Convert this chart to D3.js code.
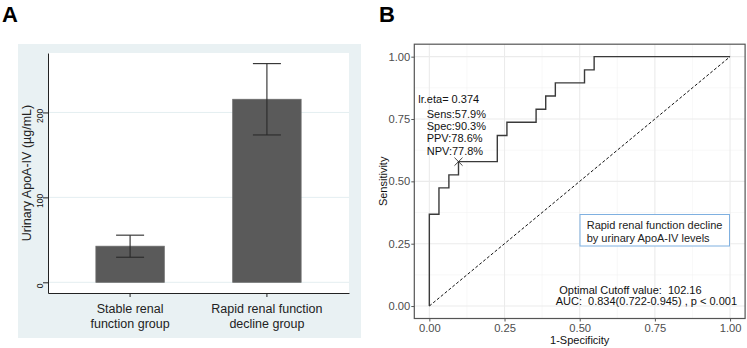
<!DOCTYPE html>
<html>
<head>
<meta charset="utf-8">
<script src="https://cdn.jsdelivr.net/npm/d3@7"></script>
<style>
  body { margin: 0; background: #fff; }
  svg { display: block; font-family: "Liberation Sans", Arial, sans-serif; }
  text { white-space: pre; }
</style>
</head>
<body>
<div id="chart"></div>
<script>
// Panel A data
const groupNames = ['Stable renal function group', 'Rapid renal function decline group'];
const groupLabelLines = [['Stable renal', 'function group'], ['Rapid renal function', 'decline group']];
const meanApoA4 = [42.5, 215.5];
const lowerApoA4 = [29.5, 173.5];
const upperApoA4 = [55.5, 257.5];
const barTicks = [0, 100, 200];

// Panel B data (ROC step corners)
const rocFpr = [0, 0, 0.032, 0.065, 0.097, 0.226, 0.258, 0.355, 0.387, 0.419, 0.516, 0.548, 1];
const rocTpr = [0, 0.368, 0.474, 0.526, 0.579, 0.684, 0.737, 0.789, 0.842, 0.895, 0.947, 1, 1];
const rocTicks = [0, 0.25, 0.5, 0.75, 1];
const rocMinorTicks = [0.125, 0.375, 0.625, 0.875];
const cutoffFpr = 0.097;
const cutoffTpr = 0.579;
const cutoffTitle = 'lr.eta= 0.374';
const cutoffStats = ['Sens:57.9%', 'Spec:90.3%', 'PPV:78.6%', 'NPV:77.8%'];
const legendLines = ['Rapid renal function decline', 'by urinary ApoA-IV levels'];
const footerLines = ['Optimal Cutoff value:  102.16', 'AUC:  0.834(0.722-0.945) , p < 0.001'];

const svg = d3.select('#chart').append('svg')
    .attr('width', 747)
    .attr('height', 348);

// ---------- Panel A ----------
svg.append('text')
    .attr('x', 2).attr('y', 22)
    .attr('font-size', 22).attr('font-weight', 'bold')
    .text('A');

svg.append('rect')
    .attr('x', 18).attr('y', 44)
    .attr('width', 343).attr('height', 294)
    .attr('fill', '#e9f1f3');

svg.append('rect')
    .attr('x', 48).attr('y', 53)
    .attr('width', 301).attr('height', 240)
    .attr('fill', '#fff');

const xA = d3.scaleBand()
    .domain(groupNames)
    .range([48, 349])
    .paddingInner(0.5)
    .paddingOuter(0.35);

const yA = d3.scaleLinear()
    .domain([-12.6, 270])
    .range([293, 53]);

// gridlines
svg.append('g').selectAll('line')
    .data(barTicks)
    .join('line')
    .attr('x1', 48).attr('x2', 349)
    .attr('y1', d => yA(d)).attr('y2', d => yA(d))
    .attr('stroke', '#e4eef1')
    .attr('stroke-width', 1);

const barData = groupNames.map((g, i) => ({
    group: g, mean: meanApoA4[i], lo: lowerApoA4[i], hi: upperApoA4[i]
}));

svg.append('g').selectAll('rect')
    .data(barData)
    .join('rect')
    .attr('x', d => xA(d.group))
    .attr('y', d => yA(d.mean))
    .attr('width', xA.bandwidth())
    .attr('height', d => yA(0) - yA(d.mean))
    .attr('fill', '#5a5a5a')
    .attr('stroke', '#6a6a6a')
    .attr('stroke-width', 0.8);

// error bars
const errG = svg.append('g')
    .attr('stroke', '#2a2a2a')
    .attr('stroke-width', 1.1);
barData.forEach(d => {
    const cx = xA(d.group) + xA.bandwidth() / 2;
    errG.append('line')
        .attr('x1', cx).attr('x2', cx)
        .attr('y1', yA(d.hi)).attr('y2', yA(d.lo));
    [d.hi, d.lo].forEach(v => {
        errG.append('line')
            .attr('x1', cx - 14).attr('x2', cx + 14)
            .attr('y1', yA(v)).attr('y2', yA(v));
    });
});

// y axis
const yAxisA = svg.append('g')
    .attr('transform', 'translate(48,0)')
    .call(d3.axisLeft(yA).tickValues(barTicks).tickSize(5).tickSizeOuter(0));
yAxisA.select('.domain').attr('stroke', '#222');
yAxisA.selectAll('.tick line').attr('stroke', '#222');
yAxisA.selectAll('.tick text')
    .attr('x', 0).attr('dy', 0)
    .attr('transform', 'translate(-5.3,3) rotate(-90)')
    .attr('text-anchor', 'middle')
    .attr('font-size', 8.5)
    .attr('font-family', '"Liberation Sans", Arial, sans-serif')
    .attr('fill', '#111');

// x axis
const xAxisA = svg.append('g')
    .attr('transform', 'translate(0,293)')
    .call(d3.axisBottom(xA).tickSize(4).tickSizeOuter(0).tickFormat(''));
xAxisA.select('.domain').attr('stroke', '#222');
xAxisA.selectAll('.tick line').attr('stroke', '#222');
xAxisA.selectAll('.tick text')
    .attr('y', 0).attr('dy', 0)
    .attr('font-size', 12.5)
    .attr('font-family', '"Liberation Sans", Arial, sans-serif')
    .attr('fill', '#222')
    .each(function(d, i) {
        d3.select(this).selectAll('tspan')
            .data(groupLabelLines[i])
            .join('tspan')
            .attr('x', 0)
            .attr('y', (t, j) => 19.5 + j * 15.5)
            .text(t => t);
    });

svg.append('text')
    .attr('transform', 'translate(31,173) rotate(-90)')
    .attr('text-anchor', 'middle')
    .attr('font-size', 12.5)
    .attr('fill', '#222')
    .text('Urinary ApoA-IV (µg/mL)');

// ---------- Panel B ----------
svg.append('text')
    .attr('x', 379).attr('y', 22)
    .attr('font-size', 22).attr('font-weight', 'bold')
    .text('B');

const xB = d3.scaleLinear().domain([-0.05, 1.05]).range([414.3, 745.1]);
const yB = d3.scaleLinear().domain([-0.05, 1.05]).range([318.5, 44.2]);

const gridB = svg.append('g');
gridB.selectAll('.minor-x')
    .data(rocMinorTicks)
    .join('line')
    .attr('x1', d => xB(d)).attr('x2', d => xB(d))
    .attr('y1', yB(-0.05)).attr('y2', yB(1.05))
    .attr('stroke', '#f3f3f3').attr('stroke-width', 0.6);
gridB.selectAll('.minor-y')
    .data(rocMinorTicks)
    .join('line')
    .attr('x1', xB(-0.05)).attr('x2', xB(1.05))
    .attr('y1', d => yB(d)).attr('y2', d => yB(d))
    .attr('stroke', '#f3f3f3').attr('stroke-width', 0.6);
gridB.selectAll('.major-x')
    .data(rocTicks)
    .join('line')
    .attr('x1', d => xB(d)).attr('x2', d => xB(d))
    .attr('y1', yB(-0.05)).attr('y2', yB(1.05))
    .attr('stroke', '#ebebeb').attr('stroke-width', 1.1);
gridB.selectAll('.major-y')
    .data(rocTicks)
    .join('line')
    .attr('x1', xB(-0.05)).attr('x2', xB(1.05))
    .attr('y1', d => yB(d)).attr('y2', d => yB(d))
    .attr('stroke', '#ebebeb').attr('stroke-width', 1.1);

// diagonal reference
svg.append('line')
    .attr('x1', xB(0)).attr('y1', yB(0))
    .attr('x2', xB(1)).attr('y2', yB(1))
    .attr('stroke', '#111')
    .attr('stroke-width', 1)
    .attr('stroke-dasharray', '3,2');

// ROC step curve
const rocPoints = rocFpr.map((f, i) => [f, rocTpr[i]]);
svg.append('path')
    .datum(rocPoints)
    .attr('fill', 'none')
    .attr('stroke', '#3a3a3a')
    .attr('stroke-width', 1.4)
    .attr('d', d3.line()
        .x(d => xB(d[0]))
        .y(d => yB(d[1]))
        .curve(d3.curveStepAfter));

// cutoff marker
svg.append('path')
    .attr('transform', `translate(${xB(cutoffFpr)},${yB(cutoffTpr)})`)
    .attr('d', d3.symbol(d3.symbolX, 44)())
    .attr('fill', 'none')
    .attr('stroke', '#333')
    .attr('stroke-width', 0.9);

// panel border
svg.append('rect')
    .attr('x', xB(-0.05)).attr('y', yB(1.05))
    .attr('width', xB(1.05) - xB(-0.05))
    .attr('height', yB(-0.05) - yB(1.05))
    .attr('fill', 'none')
    .attr('stroke', '#555')
    .attr('stroke-width', 1.2);

// axes
const xAxisB = svg.append('g')
    .attr('transform', `translate(0,${yB(-0.05)})`)
    .call(d3.axisBottom(xB).tickValues(rocTicks).tickSize(3).tickSizeOuter(0).tickFormat(d3.format('.2f')));
xAxisB.select('.domain').remove();
xAxisB.selectAll('.tick line').attr('stroke', '#555');
xAxisB.selectAll('.tick text')
    .attr('y', 6)
    .attr('font-size', 11.2)
    .attr('font-family', '"Liberation Sans", Arial, sans-serif')
    .attr('fill', '#4d4d4d');

const yAxisB = svg.append('g')
    .attr('transform', `translate(${xB(-0.05)},0)`)
    .call(d3.axisLeft(yB).tickValues(rocTicks).tickSize(3).tickSizeOuter(0).tickFormat(d3.format('.2f')));
yAxisB.select('.domain').remove();
yAxisB.selectAll('.tick line').attr('stroke', '#555');
yAxisB.selectAll('.tick text')
    .attr('x', -4)
    .attr('font-size', 11.2)
    .attr('font-family', '"Liberation Sans", Arial, sans-serif')
    .attr('fill', '#4d4d4d');

svg.append('text')
    .attr('x', (xB(-0.05) + xB(1.05)) / 2)
    .attr('y', 344)
    .attr('text-anchor', 'middle')
    .attr('font-size', 11)
    .attr('fill', '#111')
    .text('1-Specificity');

svg.append('text')
    .attr('transform', `translate(387,${(yB(-0.05) + yB(1.05)) / 2}) rotate(-90)`)
    .attr('text-anchor', 'middle')
    .attr('font-size', 11)
    .attr('fill', '#111')
    .text('Sensitivity');

// cutoff annotation
svg.append('text')
    .attr('x', 418.3).attr('y', 102.5)
    .attr('font-size', 11)
    .attr('fill', '#111')
    .text(cutoffTitle);
svg.append('g').selectAll('text')
    .data(cutoffStats)
    .join('text')
    .attr('x', 426.7)
    .attr('y', (d, i) => 118 + i * 12.2)
    .attr('font-size', 11)
    .attr('fill', '#111')
    .text(d => d);

// legend box
svg.append('rect')
    .attr('x', 580).attr('y', 214.5)
    .attr('width', 149.5).attr('height', 31.5)
    .attr('fill', '#fff')
    .attr('stroke', '#7fb0e0')
    .attr('stroke-width', 1);
svg.append('g').selectAll('text')
    .data(legendLines)
    .join('text')
    .attr('x', 586.7)
    .attr('y', (d, i) => 228.5 + i * 13.3)
    .attr('font-size', 11)
    .attr('fill', '#222')
    .text(d => d);

// footer text
svg.append('text')
    .attr('x', 559.3).attr('y', 293.5)
    .attr('font-size', 11)
    .attr('fill', '#111')
    .text(footerLines[0]);
svg.append('text')
    .attr('x', 555.7).attr('y', 304.5)
    .attr('font-size', 11)
    .attr('fill', '#111')
    .text(footerLines[1]);
</script>
</body>
</html>
